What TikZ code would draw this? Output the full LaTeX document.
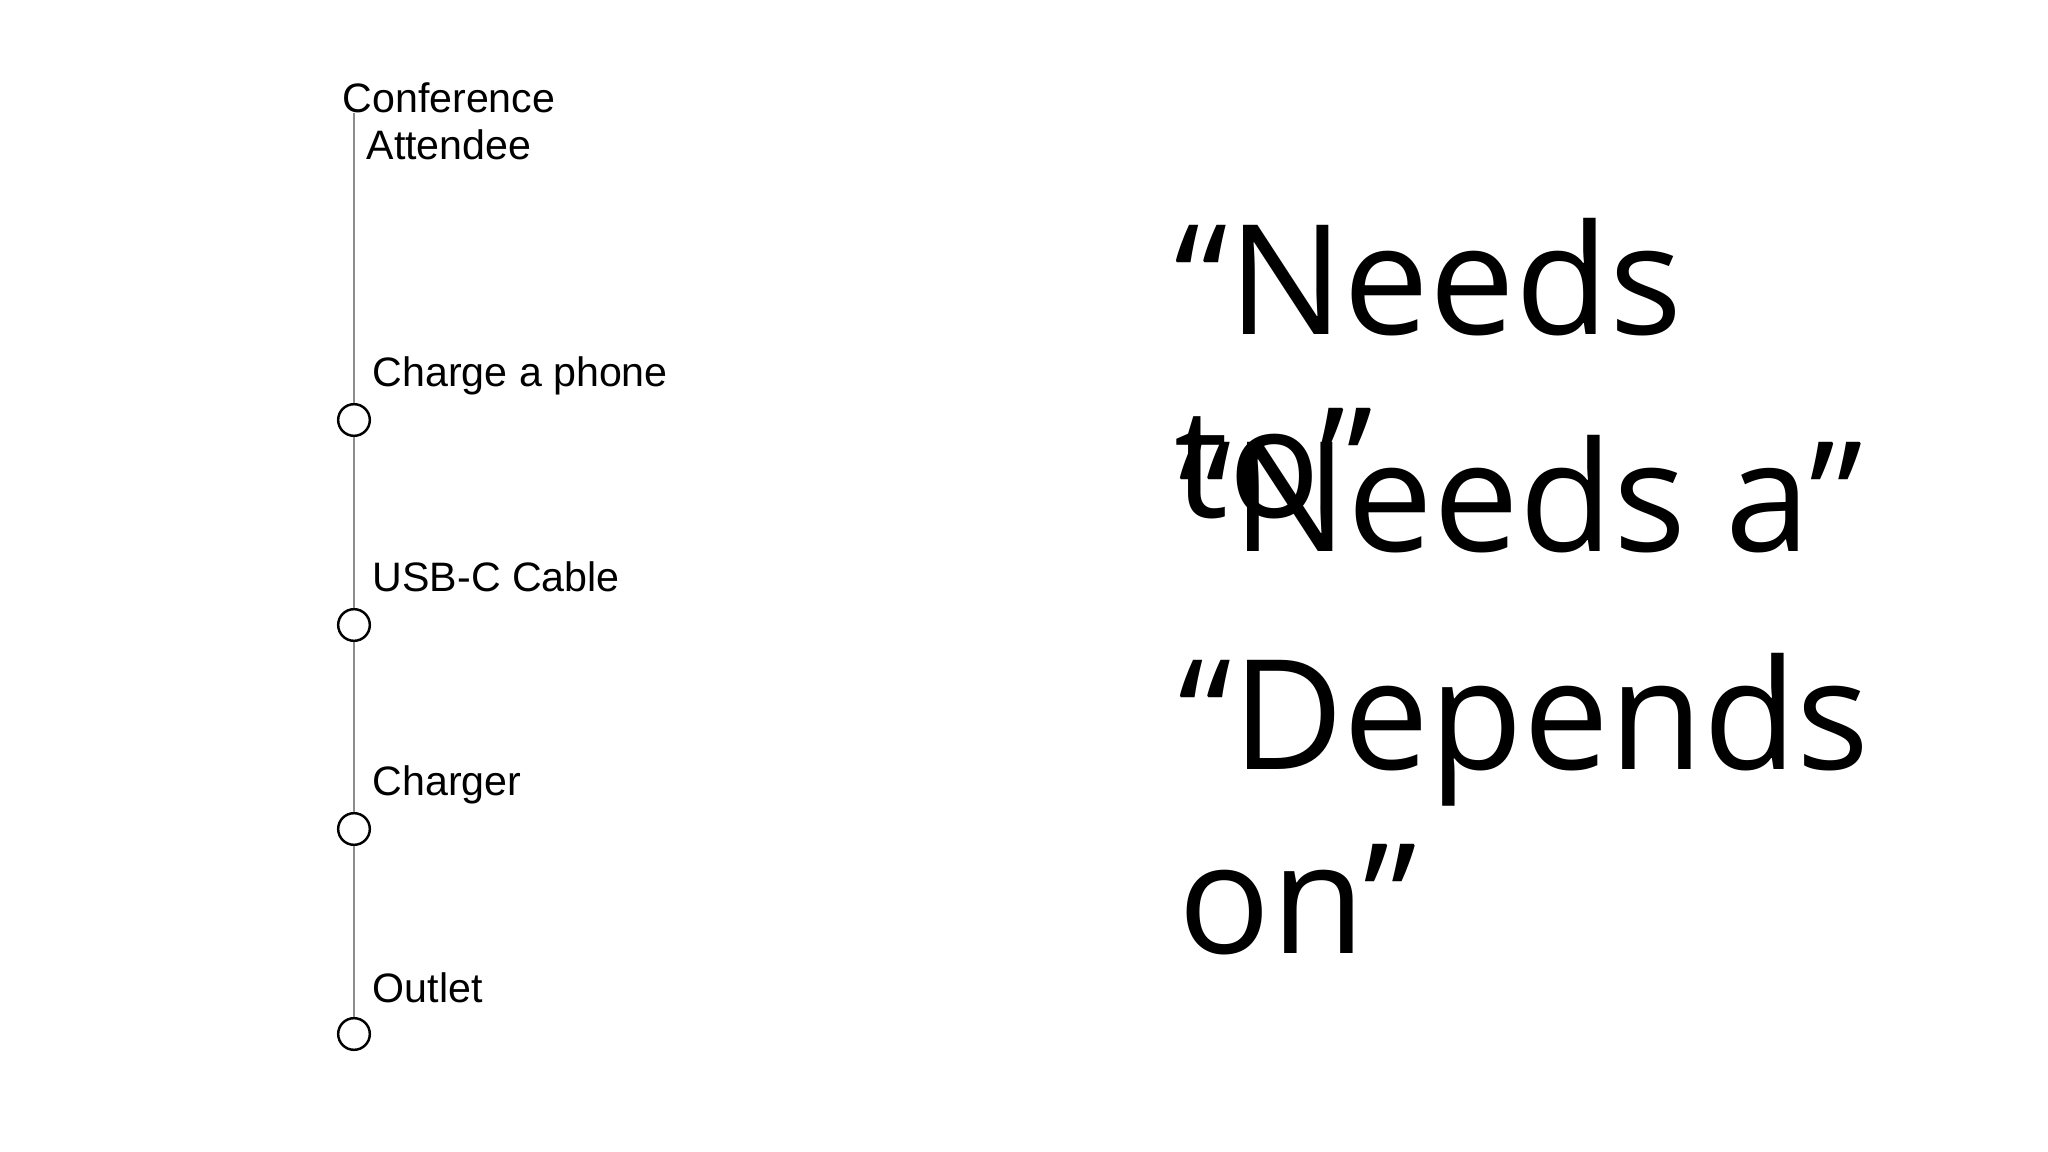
\documentclass[tikz,border=0pt]{standalone}
\usepackage{fontspec}
\setmainfont{Liberation Sans}
\newfontfamily\phrasefont{Open Sans}
\usetikzlibrary{positioning}

\tikzset{
	item/.style={anchor=base west, inner sep=0pt, font=\fontsize{11.7}{13.4}\selectfont},
	dot/.style={circle, draw=black, line width=0.7pt, minimum size=9pt, inner sep=0pt},
	stem/.style={draw=black!45, line width=0.6pt},
	phrase/.style={anchor=base west, inner sep=0pt, align=left, font=\phrasefont\fontsize{43.5}{52.3}\selectfont}
}

\begin{document}
\begin{tikzpicture}[x=0.01cm, y=-0.01cm]
	\useasboundingbox (0,0) rectangle (2048,1152);
	\node[item, anchor=base, align=center] (root) at (449,160) {Conference\\Attendee};
	\coordinate (top) at (354,113);
	\node[dot] (goal) at (354,420) {};
	\node[dot] (cable) at (354,625) {};
	\node[dot] (charger) at (354,829) {};
	\node[dot] (outlet) at (354,1034) {};
	\node[item] (goaltext) at (372,387) {Charge a phone};
	\node[item] (cabletext) at (372,592) {USB-C Cable};
	\node[item] (chargertext) at (372,795) {Charger};
	\node[item] (outlettext) at (372,1002) {Outlet};
	\draw[stem] (top) -- (goal.north);
	\draw[stem] (goal.south) -- (cable.north);
	\draw[stem] (cable.south) -- (charger.north);
	\draw[stem] (charger.south) -- (outlet.north);
	\node[phrase] (needsto) at (1174,518) {“Needs\\to”};
	\node[phrase] (needsa) at (1178,551) {“Needs a”};
	\node[phrase] (depends) at (1178,953) {“Depends\\on”};
\end{tikzpicture}
\end{document}
